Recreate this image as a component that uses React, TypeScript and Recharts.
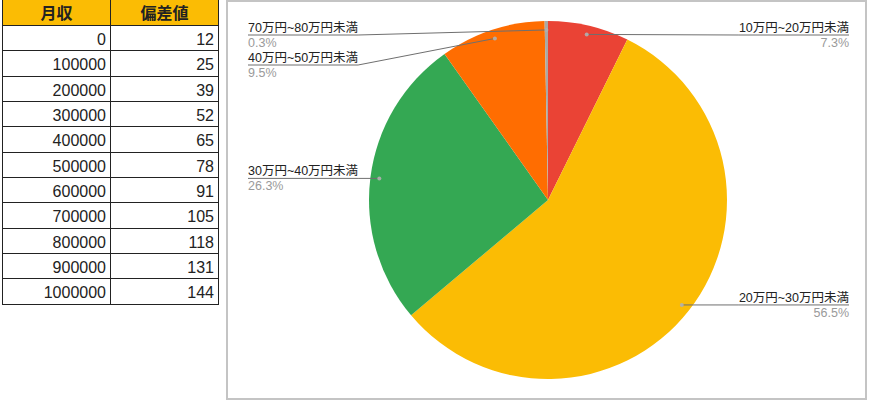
import React from 'react';
import { PieChart, Pie, Cell } from 'recharts';

// ---- Data ----
const TABLE_HEADERS = ['月収', '偏差値'];
const INCOME = [0, 100000, 200000, 300000, 400000, 500000, 600000, 700000, 800000, 900000, 1000000];
const DEVIATION = [12, 25, 39, 52, 65, 78, 91, 105, 118, 131, 144];

const CATEGORIES = ['10万円~20万円未満', '20万円~30万円未満', '30万円~40万円未満', '40万円~50万円未満', '70万円~80万円未満'];
const SHARES = [7.3, 56.5, 26.3, 9.5, 0.3];
const COLORS = ['#EA4335', '#FBBC04', '#34A853', '#FF6D01', '#A9A9A6'];

const pieData = CATEGORIES.map((name, i) => ({ name, value: SHARES[i] }));

// ---- Layout constants ----
const W = 870;
const H = 401;
const CX = 548;
const CY = 200;
const R = 179;
const DOT_FRAC = 0.95;
const LEFT_X = 248;
const RIGHT_X = 849;
const MIN_LINE_Y = 35;
const GAP = 30;
const LABEL_FONT_SIZE = 12.5;
const LABEL_FONT = "'Liberation Sans', 'Noto Sans CJK JP', sans-serif";

const RAD = Math.PI / 180;

let ctx: CanvasRenderingContext2D | null = null;
const measure = (text: string): number => {
  if (typeof document !== 'undefined') {
    if (!ctx) ctx = document.createElement('canvas').getContext('2d');
    if (ctx) {
      ctx.font = `${LABEL_FONT_SIZE}px ${LABEL_FONT}`;
      return ctx.measureText(text).width;
    }
  }
  return text.length * LABEL_FONT_SIZE;
};

// compute label line y's with simple collision avoidance per side
const computeLineYs = (cx: number, cy: number, r: number): number[] => {
  const total = SHARES.reduce((a, b) => a + b, 0);
  let acc = 0;
  const pts = SHARES.map((v, i) => {
    const mid = 90 - ((acc + v / 2) / total) * 360;
    acc += v;
    const x = cx + r * Math.cos(mid * RAD);
    const y = cy - r * Math.sin(mid * RAD);
    return { i, x, y, right: x >= cx };
  });
  const res: number[] = new Array(SHARES.length).fill(0);
  [true, false].forEach((side) => {
    const list = pts.filter((p) => p.right === side).sort((a, b) => a.y - b.y);
    let prev = -Infinity;
    list.forEach((p) => {
      const L = Math.max(p.y, MIN_LINE_Y, prev + GAP);
      res[p.i] = L;
      prev = L;
    });
  });
  return res;
};

const renderLabel = (props: any) => {
  const { cx, cy, midAngle, outerRadius, index, value, name } = props;
  const r = outerRadius * DOT_FRAC;
  const dx = cx + r * Math.cos(-midAngle * RAD);
  const dy = cy + r * Math.sin(-midAngle * RAD);
  const right = dx >= cx;
  const L = computeLineYs(cx, cy, r)[index];
  const label = String(name);
  const w = measure(label);
  let pts: string;
  let tx: number;
  if (right) {
    tx = RIGHT_X;
    pts = `${dx},${dy} ${RIGHT_X - w},${L} ${RIGHT_X},${L}`;
  } else {
    tx = LEFT_X;
    pts = `${dx},${dy} ${LEFT_X + w},${L} ${LEFT_X},${L}`;
  }
  return (
    <g key={`lbl-${index}`}>
      <polyline points={pts} fill="none" stroke="#6f6f6f" strokeWidth={1} />
      <circle cx={dx} cy={dy} r={2} fill="#b0b0b0" fillOpacity={0.9} />
      <text
        x={tx}
        y={L - 3}
        textAnchor={right ? 'end' : 'start'}
        fontSize={LABEL_FONT_SIZE}
        fontFamily={LABEL_FONT}
        fill="#222222"
      >
        {label}
      </text>
      <text
        x={tx}
        y={L + 12}
        textAnchor={right ? 'end' : 'start'}
        fontSize={LABEL_FONT_SIZE}
        fontFamily={LABEL_FONT}
        fill="#9a9a9a"
      >
        {`${value}%`}
      </text>
    </g>
  );
};

const ROW_H = 25.35;
const HEAD_H = 26;
const COL_W = 108;

const DataTable = () => {
  const cellBase: React.CSSProperties = {
    boxSizing: 'border-box',
    borderRight: '1px solid #222',
    borderBottom: '1px solid #222',
  };
  return (
    <div
      style={{
        position: 'absolute',
        left: 2,
        top: 0,
        display: 'grid',
        gridTemplateColumns: `${COL_W}px ${COL_W}px`,
        gridTemplateRows: `${HEAD_H}px repeat(${INCOME.length}, ${ROW_H}px)`,
        borderLeft: '1px solid #222',
        fontFamily: "'Liberation Sans', Arial, sans-serif",
        color: '#222',
      }}
    >
      {TABLE_HEADERS.map((h) => (
        <div
          key={h}
          style={{
            ...cellBase,
            background: '#FBBC04',
            fontFamily: "'Noto Sans CJK JP', sans-serif",
            fontWeight: 700,
            fontSize: 16,
            textAlign: 'center',
            lineHeight: `${HEAD_H - 1}px`,
          }}
        >
          {h}
        </div>
      ))}
      {INCOME.map((inc, i) => (
        <React.Fragment key={i}>
          <div
            style={{
              ...cellBase,
              fontSize: 16,
              textAlign: 'right',
              paddingRight: 4,
              paddingTop: 3,
              lineHeight: '21px',
            }}
          >
            {inc}
          </div>
          <div
            style={{
              ...cellBase,
              fontSize: 16,
              textAlign: 'right',
              paddingRight: 4,
              paddingTop: 3,
              lineHeight: '21px',
            }}
          >
            {DEVIATION[i]}
          </div>
        </React.Fragment>
      ))}
    </div>
  );
};

export default function App() {
  return (
    <div style={{ position: 'relative', width: W, height: H, background: '#fff', overflow: 'hidden' }}>
      <style>{'body{margin:0;background:#fff;}'}</style>
      <DataTable />
      <div
        style={{
          position: 'absolute',
          left: 226,
          top: 0,
          width: 641,
          height: 400,
          boxSizing: 'border-box',
          border: '2px solid #c4c4c4',
          background: '#fff',
        }}
      />
      <div style={{ position: 'absolute', left: 0, top: 0 }}>
        <PieChart width={W} height={H} margin={{ top: 0, right: 0, bottom: 0, left: 0 }}>
          <Pie
            data={pieData}
            dataKey="value"
            nameKey="name"
            cx={CX}
            cy={CY}
            outerRadius={R}
            startAngle={90}
            endAngle={-270}
            stroke="none"
            label={renderLabel}
            labelLine={false}
            isAnimationActive={false}
          >
            {pieData.map((d, i) => (
              <Cell key={d.name} fill={COLORS[i]} />
            ))}
          </Pie>
        </PieChart>
      </div>
    </div>
  );
}
